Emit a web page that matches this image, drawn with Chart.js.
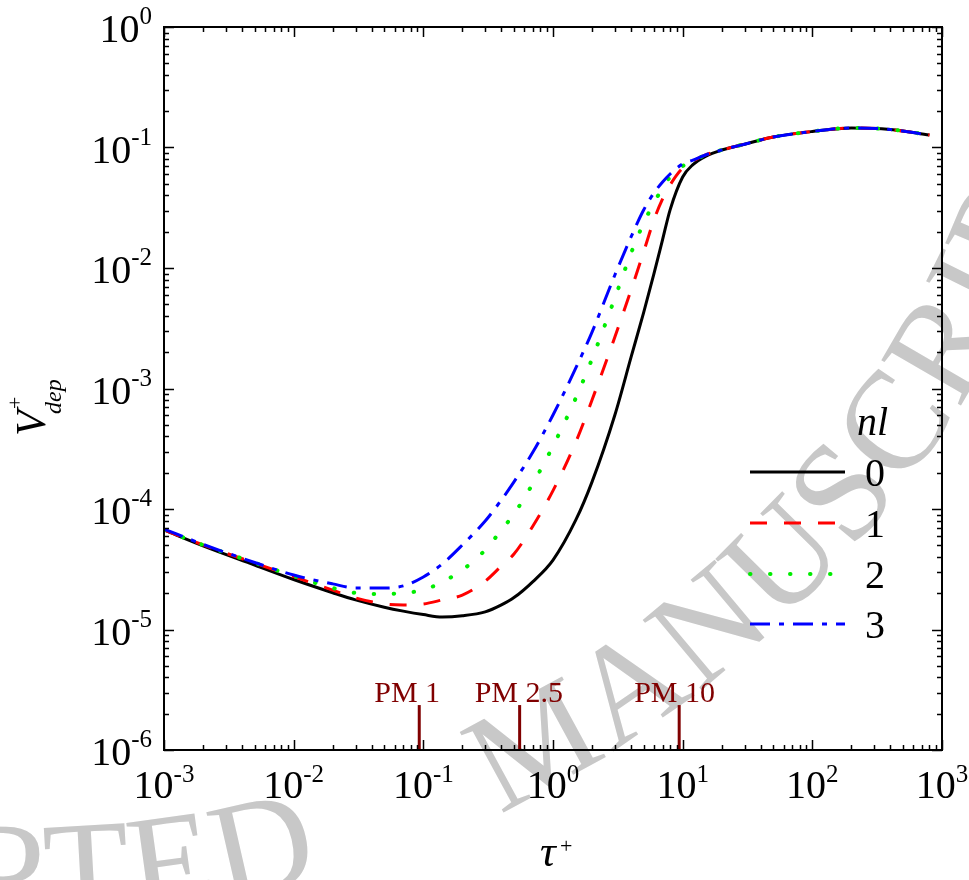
<!DOCTYPE html>
<html>
<head>
<meta charset="utf-8">
<title>Vdep+ vs tau+</title>
<script src="https://cdn.jsdelivr.net/npm/chart.js@4.4.1/dist/chart.umd.min.js"></script>
<style>
  html, body { margin: 0; padding: 0; background: #fff; }
  #wrap { width: 969px; height: 880px; }
</style>
</head>
<body>
<div id="wrap"><canvas id="depChart" width="969" height="880"></canvas></div>
<script>
// dimensionless relaxation time tau+ (shared by all curves)
const tau = [0.001, 0.002, 0.005, 0.01, 0.02, 0.03, 0.05, 0.07, 0.1, 0.14, 0.2, 0.3, 0.4, 0.5, 0.7,
             1, 1.5, 2, 3, 4, 5, 6, 7, 8, 10, 12, 15, 20, 30, 50, 100, 200, 400, 800];

// deposition velocity V+dep for nl = 0..3
const vdepNl0 = [6.70e-5, 4.95e-5, 3.43e-5, 2.60e-5, 2.02e-5, 1.76e-5, 1.53e-5, 1.42e-5, 1.33e-5, 1.27e-5,
                 1.30e-5, 1.40e-5, 1.60e-5, 1.84e-5, 2.50e-5, 3.77e-5, 8.11e-5, 1.68e-4, 6.03e-4, 1.82e-3,
                 4.27e-3, 8.93e-3, 1.72e-2, 3.04e-2, 5.69e-2, 7.21e-2, 8.45e-2, 9.53e-2, 0.1065, 0.1222,
                 0.1358, 0.1452, 0.1411, 0.1270];
const vdepNl1 = [6.70e-5, 5.03e-5, 3.56e-5, 2.75e-5, 2.12e-5, 1.83e-5, 1.63e-5, 1.60e-5, 1.63e-5, 1.76e-5,
                 1.93e-5, 2.52e-5, 3.37e-5, 4.23e-5, 7.23e-5, 1.42e-4, 3.60e-4, 8.03e-4, 2.68e-3, 6.57e-3,
                 1.36e-2, 2.50e-2, 3.74e-2, 4.89e-2, 6.76e-2, 7.70e-2, 8.67e-2, 9.53e-2, 0.1065, 0.1222,
                 0.1358, 0.1452, 0.1411, 0.1270];
const vdepNl2 = [6.70e-5, 5.03e-5, 3.58e-5, 2.78e-5, 2.21e-5, 2.01e-5, 1.97e-5, 2.01e-5, 2.13e-5, 2.48e-5,
                 3.12e-5, 4.57e-5, 6.70e-5, 9.09e-5, 1.63e-4, 3.33e-4, 8.34e-4, 1.76e-3, 5.64e-3, 1.33e-2,
                 2.36e-2, 3.46e-2, 4.61e-2, 5.69e-2, 7.02e-2, 7.73e-2, 8.67e-2, 9.53e-2, 0.1065, 0.1222,
                 0.1358, 0.1452, 0.1411, 0.1270];
const vdepNl3 = [6.82e-5, 5.09e-5, 3.60e-5, 2.83e-5, 2.39e-5, 2.21e-5, 2.21e-5, 2.30e-5, 2.73e-5, 3.50e-5,
                 5.03e-5, 7.95e-5, 1.19e-4, 1.68e-4, 2.97e-4, 6.03e-4, 1.48e-3, 2.94e-3, 8.75e-3, 1.81e-2,
                 3.03e-2, 4.19e-2, 5.17e-2, 6.03e-2, 7.30e-2, 7.87e-2, 8.67e-2, 9.53e-2, 0.1065, 0.1222,
                 0.1358, 0.1452, 0.1411, 0.1270];

const seriesNames = ['0', '1', '2', '3'];

// particle size markers
const pmNames = ['PM 1', 'PM 2.5', 'PM 10'];
const pmTau = [0.093, 0.553, 9.4];
const pmTop = 2.36e-6;

// decade tick exponents
const xTickExp = [-3, -2, -1, 0, 1, 2, 3];
const yTickExp = [-6, -5, -4, -3, -2, -1, 0];

const SERIF = '"Liberation Serif", "Times New Roman", serif';
const PM_COLOR = '#800000';

const lineStyles = [
    { color: '#000000', dash: [], cap: 'butt', width: 3 },
    { color: '#ff0000', dash: [17, 17], cap: 'butt', width: 3 },
    { color: '#00ee00', dash: [0.5, 19.5], cap: 'round', width: 4 },
    { color: '#0000ff', dash: [20, 9, 5, 9], cap: 'butt', width: 3 }
];

function toPoints(xs, ys) {
    return xs.map((x, i) => ({ x: x, y: ys[i] }));
}

const curveSets = [vdepNl0, vdepNl1, vdepNl2, vdepNl3].map((vals, i) => ({
    label: seriesNames[i],
    data: toPoints(tau, vals),
    borderColor: lineStyles[i].color,
    borderWidth: lineStyles[i].width,
    borderDash: lineStyles[i].dash,
    borderCapStyle: lineStyles[i].cap,
    cubicInterpolationMode: 'monotone',
    pointRadius: 0,
    fill: false,
    order: 4 - i
}));

const pmSets = pmTau.map((t, i) => ({
    label: pmNames[i],
    data: [{ x: t, y: 1e-6 }, { x: t, y: pmTop }],
    borderColor: PM_COLOR,
    borderWidth: 3,
    pointRadius: 0,
    fill: false,
    order: 10
}));

// background + "ACCEPTED MANUSCRIPT" watermark along an arc
const watermarkPlugin = {
    id: 'watermark',
    beforeDraw(chart) {
        const ctx = chart.ctx;
        ctx.save();
        ctx.fillStyle = '#fff';
        ctx.fillRect(0, 0, chart.width, chart.height);

        const text = 'ACCEPTED MANUSCRIPT';
        ctx.font = '140px ' + SERIF;
        ctx.fillStyle = '#c8c8c8';
        ctx.textAlign = 'center';
        ctx.textBaseline = 'middle';
        const cx = 27, cy = -186, r = 1068;
        // the gap between the two words is wide
        const widths = text.split('').map(c => c === ' ' ? 180 : ctx.measureText(c).width);
        const centers = [];
        let s = 0;
        widths.forEach(w => { centers.push(s + w / 2); s += w; });
        const anchor = 11; // the 'N'
        const anchorAngle = 50 * Math.PI / 180;
        text.split('').forEach((c, i) => {
            if (c === ' ') return;
            const th = anchorAngle + (centers[anchor] - centers[i]) / r;
            ctx.save();
            ctx.translate(cx + r * Math.cos(th), cy + r * Math.sin(th));
            ctx.rotate(th - Math.PI / 2);
            ctx.fillText(c, 0, 0);
            ctx.restore();
        });
        ctx.restore();
    }
};

// frame, inward ticks on four sides, decade labels, titles, legend, PM labels
const axesPlugin = {
    id: 'axesDecor',
    afterDatasetsDraw(chart) {
        const { ctx, chartArea: a, scales } = chart;
        const xs = scales.x, ys = scales.y;
        ctx.save();
        ctx.strokeStyle = '#000';
        ctx.lineWidth = 1.5;
        ctx.beginPath();
        for (let e = -3; e <= 3; e++) {
            for (let m = 1; m <= 9; m++) {
                const v = m * Math.pow(10, e);
                if (v > 1000.0001) break;
                const px = Math.round(xs.getPixelForValue(v)) + 0.5;
                const len = m === 1 ? 10 : 5;
                ctx.moveTo(px, a.bottom); ctx.lineTo(px, a.bottom - len);
                ctx.moveTo(px, a.top); ctx.lineTo(px, a.top + len);
            }
        }
        for (let e = -6; e <= 0; e++) {
            for (let m = 1; m <= 9; m++) {
                const v = m * Math.pow(10, e);
                if (v > 1.0001) break;
                const py = Math.round(ys.getPixelForValue(v)) + 0.5;
                const len = m === 1 ? 10 : 5;
                ctx.moveTo(a.left, py); ctx.lineTo(a.left + len, py);
                ctx.moveTo(a.right, py); ctx.lineTo(a.right - len, py);
            }
        }
        ctx.stroke();
        ctx.lineWidth = 2;
        ctx.strokeRect(a.left, a.top, a.right - a.left, a.bottom - a.top);

        // tick labels 10^n
        ctx.fillStyle = '#000';
        ctx.textBaseline = 'alphabetic';
        ctx.textAlign = 'left';
        const bigFont = '40px ' + SERIF, supFont = '25px ' + SERIF;
        xTickExp.forEach(e => {
            const tx = xs.getPixelForValue(Math.pow(10, e));
            ctx.font = bigFont;
            const w10 = ctx.measureText('10').width;
            ctx.font = supFont;
            const wSup = ctx.measureText(String(e)).width;
            const x0 = tx - (w10 + wSup) / 2;
            ctx.font = bigFont;
            ctx.fillText('10', x0, a.bottom + 48);
            ctx.font = supFont;
            ctx.fillText(String(e), x0 + w10, a.bottom + 32);
        });
        yTickExp.forEach(e => {
            const ty = ys.getPixelForValue(Math.pow(10, e));
            ctx.font = supFont;
            const wSup = ctx.measureText(String(e)).width;
            ctx.fillText(String(e), 152 - wSup, ty - 3);
            ctx.font = bigFont;
            ctx.textAlign = 'right';
            ctx.fillText('10', 152 - wSup, ty + 15);
            ctx.textAlign = 'left';
        });

        // y title  V+dep (rotated)
        ctx.save();
        ctx.translate(45, 436);
        ctx.rotate(-Math.PI / 2);
        ctx.font = 'italic 42px ' + SERIF;
        ctx.fillText('V', 0, 0);
        ctx.font = '22px ' + SERIF;
        ctx.fillText('+', 27, -23);
        ctx.font = 'italic 24px ' + SERIF;
        ctx.fillText('dep', 22, 16);
        ctx.restore();

        // x title  tau+
        ctx.font = 'italic 44px ' + SERIF;
        ctx.fillText('\u03C4', 540, 866);
        ctx.font = '22px ' + SERIF;
        ctx.fillText('+', 560, 853);

        // PM labels
        ctx.fillStyle = PM_COLOR;
        ctx.font = '30px ' + SERIF;
        pmTau.forEach((t, i) => {
            ctx.fillText(pmNames[i], xs.getPixelForValue(t) - 45, 702);
        });

        // legend
        ctx.fillStyle = '#000';
        ctx.font = 'italic 40px ' + SERIF;
        ctx.fillText('nl', 857, 435);
        const rowY = [472, 523, 574, 624];
        ctx.font = '40px ' + SERIF;
        lineStyles.forEach((st, i) => {
            ctx.save();
            ctx.strokeStyle = st.color;
            ctx.lineWidth = st.width;
            ctx.lineCap = st.cap;
            ctx.setLineDash(st.dash);
            ctx.beginPath();
            ctx.moveTo(750, rowY[i]);
            ctx.lineTo(845, rowY[i]);
            ctx.stroke();
            ctx.restore();
            ctx.fillText(seriesNames[i], 865, rowY[i] + 14);
        });
        ctx.restore();
    }
};

new Chart(document.getElementById('depChart'), {
    type: 'line',
    data: { datasets: curveSets.concat(pmSets) },
    options: {
        responsive: false,
        devicePixelRatio: 1,
        animation: false,
        layout: { padding: { left: 164, right: 27, top: 27, bottom: 130 } },
        plugins: {
            legend: { display: false },
            tooltip: { enabled: false }
        },
        scales: {
            x: { type: 'logarithmic', min: 1e-3, max: 1e3, display: false },
            y: { type: 'logarithmic', min: 1e-6, max: 1, display: false }
        }
    },
    plugins: [watermarkPlugin, axesPlugin]
});
</script>
</body>
</html>
